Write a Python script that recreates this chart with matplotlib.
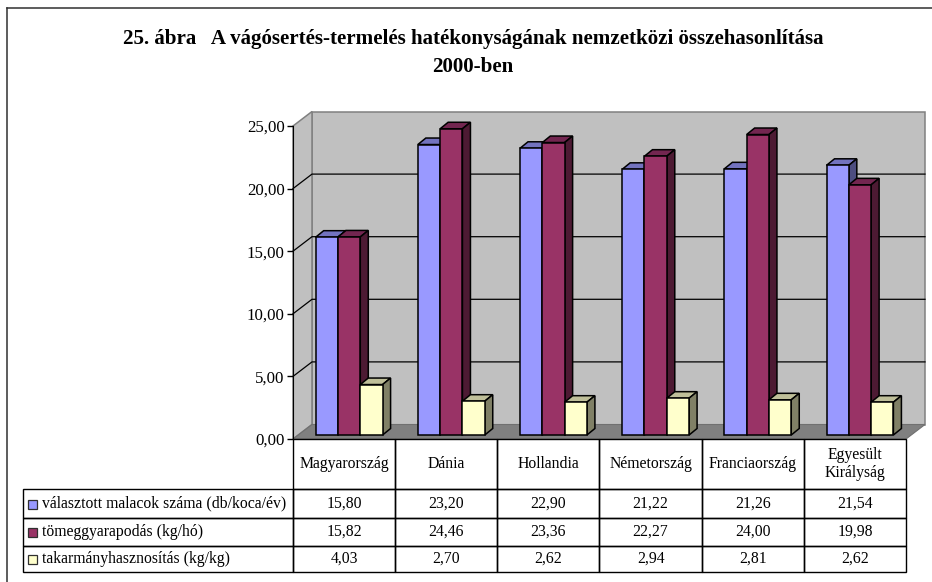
import matplotlib
matplotlib.use('Agg')
import matplotlib.pyplot as plt
from matplotlib.patches import Polygon, Rectangle
from matplotlib.lines import Line2D

plt.rcParams['font.family'] = ['Liberation Serif', 'DejaVu Serif']

countries = ['Magyarország', 'Dánia', 'Hollandia', 'Németország', 'Franciaország', 'Egyesült\nKirályság']
malacok = [15.80, 23.20, 22.90, 21.22, 21.26, 21.54]
tomeg = [15.82, 24.46, 23.36, 22.27, 24.00, 19.98]
takarmany = [4.03, 2.70, 2.62, 2.94, 2.81, 2.62]
series_names = ['választott malacok száma (db/koca/év)', 'tömeggyarapodás (kg/hó)', 'takarmányhasznosítás (kg/kg)']
yticks = [0, 5, 10, 15, 20, 25]
title = '25. ábra   A vágósertés-termelés hatékonyságának nemzetközi összehasonlítása\n2000-ben'

W, H = 932, 582
px_cat = 613 / 6.0
px_val = 313 / 25.0

def comma(v):
    return ('%.2f' % v).replace('.', ',')

fig = plt.figure(figsize=(W / 100, H / 100), dpi=100)
ax = fig.add_axes([293 / W, (H - 439) / H, 613 / W, 313 / H])
ax.set_xlim(0, 6)
ax.set_ylim(0, 25)
ax.patch.set_visible(False)

# frame of the page, only top and left show
fig.add_artist(Line2D([7 / W, 7 / W], [0, 1 - 7.5 / H], color='#303030', lw=1.1))
fig.add_artist(Line2D([7 / W, 1], [1 - 7.5 / H, 1 - 7.5 / H], color='#303030', lw=1.1))

# walls and floor
wall_dx = 19 / px_cat
wall_dy = 14.5 / px_val
wall = '#C0C0C0'
edge = '#808080'
ax.add_patch(Polygon([(wall_dx, wall_dy), (6 + wall_dx, wall_dy), (6 + wall_dx, 25 + wall_dy), (wall_dx, 25 + wall_dy)],
                     fc=wall, ec=edge, lw=1.1, clip_on=False, zorder=1))
ax.add_patch(Polygon([(0, 0), (wall_dx, wall_dy), (wall_dx, 25 + wall_dy), (0, 25)],
                     fc=wall, ec=edge, lw=1.1, clip_on=False, zorder=1))
ax.add_patch(Polygon([(0, 0), (6, 0), (6 + wall_dx, wall_dy), (wall_dx, wall_dy)],
                     fc='#808080', ec='#707070', lw=0.8, clip_on=False, zorder=1))
for t in yticks[1:-1]:
    ax.plot([0, wall_dx, 6 + wall_dx], [t, t + wall_dy, t + wall_dy], color='black', lw=0.9, clip_on=False, zorder=2)

# bars with fake 3d faces
bar_w = 22.3 / px_cat
bar_dx = 8 / px_cat
bar_dy = 6.5 / px_val
lift = 4 / px_val
start = 0.222
colors = [('#9999FF', '#7373BF', '#4D4D80'), ('#993366', '#732650', '#4D1A33'), ('#FFFFCC', '#BFBF99', '#808066')]

z = 3
for i in range(len(countries)):
    for j, vals in enumerate([malacok, tomeg, takarmany]):
        front, top, side = colors[j]
        x0 = i + start + j * bar_w
        x1 = x0 + bar_w
        y1 = vals[i] + lift
        ax.add_patch(Polygon([(x0, y1), (x1, y1), (x1 + bar_dx, y1 + bar_dy), (x0 + bar_dx, y1 + bar_dy)],
                             fc=top, ec='black', lw=1.1, clip_on=False, zorder=z))
        ax.add_patch(Polygon([(x1, lift), (x1 + bar_dx, lift + bar_dy), (x1 + bar_dx, y1 + bar_dy), (x1, y1)],
                             fc=side, ec='black', lw=1.1, clip_on=False, zorder=z))
        ax.bar(x0, vals[i], width=bar_w, bottom=lift, align='edge', color=front, edgecolor='black', lw=1.1,
               clip_on=False, zorder=z + 0.5)
        z += 1

for s in ['top', 'right', 'bottom']:
    ax.spines[s].set_visible(False)
ax.spines['left'].set_zorder(2)
ax.set_xticks([])
ax.set_yticks(yticks)
ax.set_yticklabels([comma(t) for t in yticks], fontsize=12.2)
ax.tick_params(axis='y', length=4, width=1.0, pad=2, color='black')

# data table under the plot, first column holds the series names
series_vals = [malacok, tomeg, takarmany]
cell_text = [[series_names[k]] + [comma(v) for v in series_vals[k]] for k in range(3)]
tab = ax.table(cellText=cell_text, colLabels=[''] + countries,
               colWidths=[270.5 / 613] + [1 / 6.0] * 6, cellLoc='center',
               bbox=[(22.5 - 293) / 613, -133 / 313, (906 - 22.5) / 613, 133 / 313])
tab.auto_set_font_size(False)
tab.set_zorder(20)
row_h = [50, 29, 28, 26]
for (r, c), cell in tab.get_celld().items():
    cell.set_height(row_h[r] / 313)
    cell.set_linewidth(1.0)
    cell.set_edgecolor('black')
    cell.set_facecolor('none')
    cell.set_text_props(fontsize=11.3)
    if c == 0:
        cell.PAD = 0.072
        cell.set_text_props(ha='left')
tab[(0, 0)].visible_edges = ''

# legend keys in the row labels
key_y = [504, 532.5, 559.5]
for y, (front, top, side) in zip(key_y, colors):
    fig.add_artist(Rectangle((28 / W, 1 - (y + 4.5) / H), 9 / W, 9 / H, transform=fig.transFigure,
                             fc=front, ec='#303030', lw=0.9))

fig.text(473 / W, 1 - 53 / H, title, ha='center', va='center', fontsize=15.1, fontweight='bold', linespacing=1.52)

fig.savefig('out.png', dpi=100)
